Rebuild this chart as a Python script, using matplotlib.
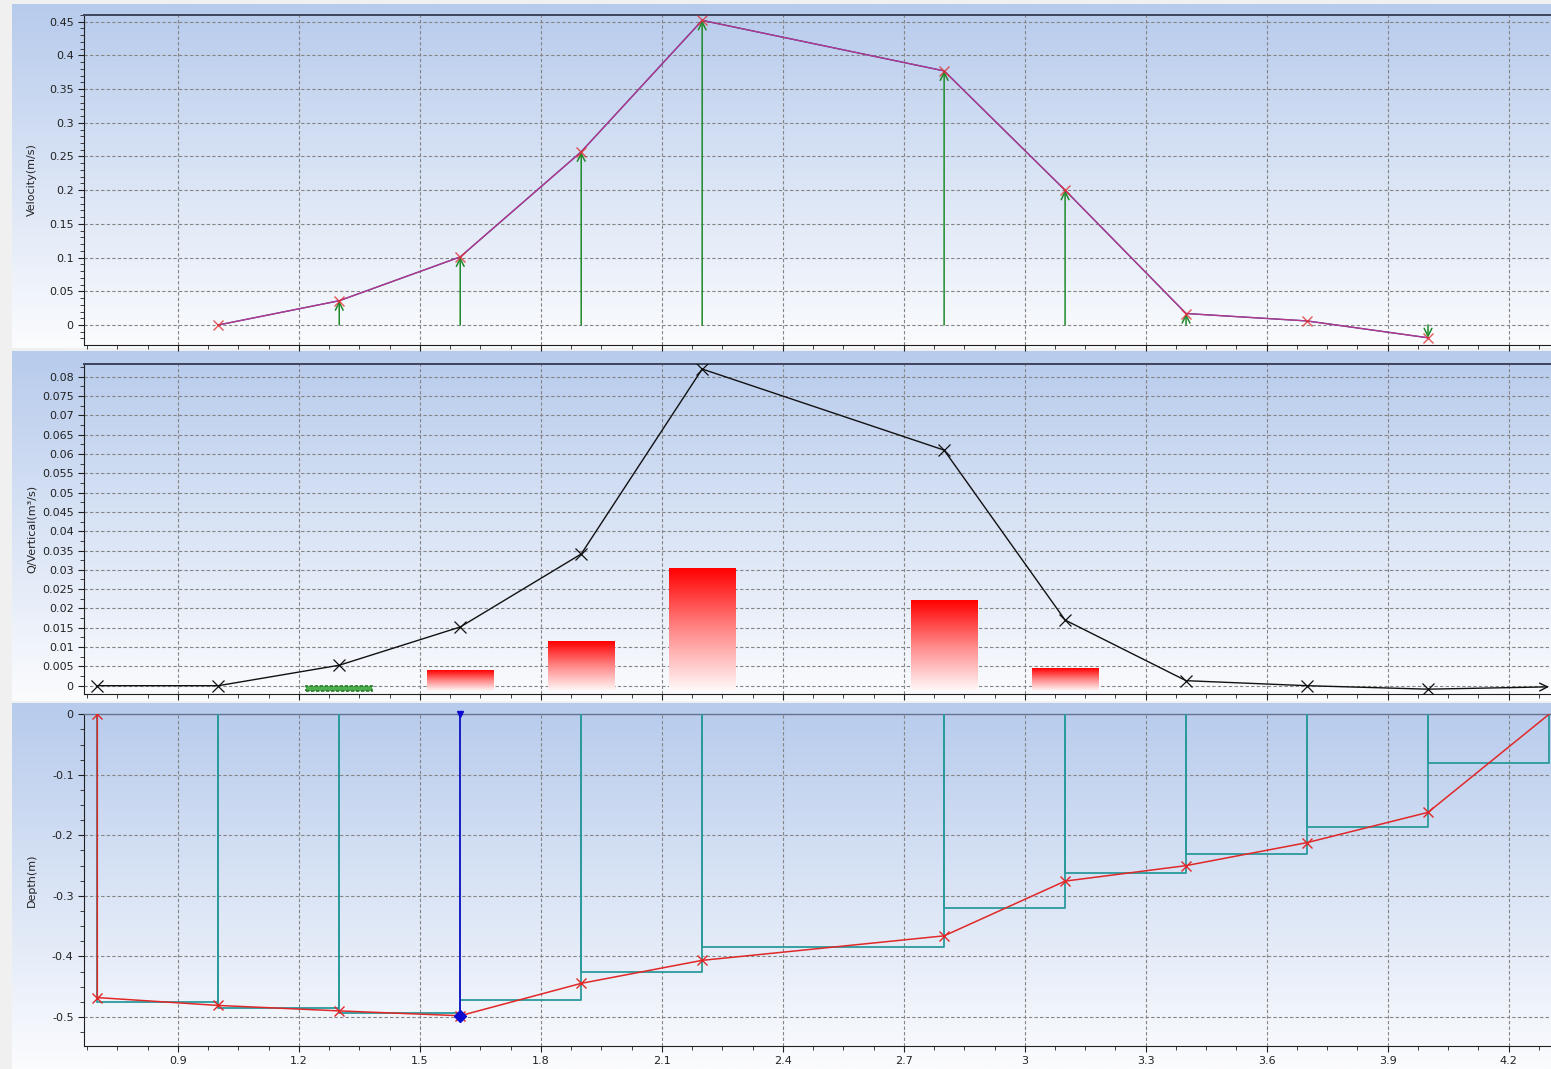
import matplotlib
matplotlib.use("Agg")
import matplotlib.pyplot as plt
import numpy as np
from matplotlib.colors import LinearSegmentedColormap
from matplotlib.ticker import MultipleLocator, FuncFormatter

# stations across the section (m)
stations = [0.7, 1.0, 1.3, 1.6, 1.9, 2.2, 2.8, 3.1, 3.4, 3.7, 4.0, 4.3]

# velocity at the measured verticals (m/s)
vel_x = [1.0, 1.3, 1.6, 1.9, 2.2, 2.8, 3.1, 3.4, 3.7, 4.0]
vel = [0.0, 0.036, 0.101, 0.257, 0.452, 0.377, 0.200, 0.017, 0.006, -0.019]

# discharge per vertical (m3/s), one per station
q_vert = [0.0, 0.0, 0.0053, 0.0152, 0.0341, 0.082, 0.061, 0.017, 0.0013, 0.0, -0.0009, -0.0003]

# panel discharge bars
bar_x = [1.3, 1.6, 1.9, 2.2, 2.8, 3.1]
bar_q = [0.0, 0.0038, 0.0113, 0.0302, 0.0219, 0.0044]
bar_base = -0.0015
bar_w = 0.164

# bed depth at the stations (m), water edge at 0
edge_top = 0.0
depth = [-0.468, -0.481, -0.490, -0.498, -0.4445, -0.4065, -0.366, -0.2756, -0.250, -0.212, -0.162, 0.0]
# mean depth of each panel between stations
panel_depth = [-0.475, -0.485, -0.494, -0.4715, -0.426, -0.385, -0.3196, -0.262, -0.2315, -0.1854, -0.081]
sel_station = 1.6

W, H = 1551, 1069
fig = plt.figure(figsize=(W / 100, H / 100), dpi=100, facecolor="#f0f0f0")


def px_box(x0, y0, x1, y1):
    return [x0 / W, 1 - y1 / H, (x1 - x0) / W, (y1 - y0) / H]


# panel backgrounds (blue to white gradient)
bg_cmap = LinearSegmentedColormap.from_list("bg", ["#b7cbec", "#fbfcfe"])
grad = np.linspace(0, 1, 256).reshape(-1, 1)
for y0, y1 in [(4, 348), (351, 701), (703, 1069)]:
    bg = fig.add_axes(px_box(12, y0, W, y1), zorder=0)
    bg.imshow(grad, aspect="auto", cmap=bg_cmap, extent=(0, 1, 0, 1))
    bg.axis("off")

fmt = FuncFormatter(lambda v, p: "0" if abs(v) < 1e-9 else f"{round(v, 6):g}")
xlim = (0.667, 4.305)


def setup(ax, ylim, ymaj, ymin, label):
    ax.set_facecolor("none")
    ax.set_xlim(*xlim)
    ax.set_ylim(*ylim)
    ax.xaxis.set_major_locator(MultipleLocator(0.3))
    ax.xaxis.set_minor_locator(MultipleLocator(0.075))
    ax.yaxis.set_major_locator(MultipleLocator(ymaj))
    ax.yaxis.set_minor_locator(MultipleLocator(ymin))
    ax.xaxis.set_major_formatter(fmt)
    ax.yaxis.set_major_formatter(fmt)
    ax.grid(True, which="major", color="#858585", linestyle=(0, (3, 2)), linewidth=0.8)
    ax.set_axisbelow(True)
    ax.tick_params(which="both", direction="out", labelsize=8, colors="#222222")
    ax.tick_params(which="major", length=4)
    ax.tick_params(which="minor", length=3)
    for s in ["left", "bottom"]:
        ax.spines[s].set_color("#202020")
    ax.spines["top"].set_color("#3c4460")
    ax.spines["top"].set_linewidth(1.4)
    ax.spines["right"].set_visible(False)
    ax.set_ylabel(label, fontsize=8, color="#222222")
    ax.yaxis.set_label_coords(-0.032, 0.5)


# --- velocity panel
ax1 = fig.add_axes(px_box(84, 14.7, W, 345), zorder=1)
setup(ax1, (-0.0297, 0.4604), 0.05, 0.01, "Velocity(m/s)")
ax1.tick_params(labelbottom=False)
for x, v in zip(vel_x, vel):
    if abs(v) >= 0.01:
        ax1.annotate("", xy=(x, v), xytext=(x, 0),
                     arrowprops=dict(arrowstyle="->", color="#1e8a2a", lw=1.1,
                                     shrinkA=0, shrinkB=0, mutation_scale=14))
ax1.plot(vel_x, vel, color="#2020a0", lw=1.0, zorder=3)
ax1.plot(vel_x, vel, color="#e04080", lw=0.9, alpha=0.8, marker="x",
         markersize=7, markeredgecolor="#e03030", markeredgewidth=1.0, zorder=4)

# --- discharge panel
ax2 = fig.add_axes(px_box(84, 364, W, 694), zorder=1)
setup(ax2, (-0.00215, 0.0833), 0.005, 0.0025, "Q/Vertical(m³/s)")
ax2.tick_params(labelbottom=False)
red_cmap = LinearSegmentedColormap.from_list("rw", ["#fffafa", "#ff8888", "#ff0000"])
for x, q in zip(bar_x, bar_q):
    if q > 0:
        ax2.imshow(grad, aspect="auto", cmap=red_cmap, origin="lower",
                   extent=(x - bar_w / 2, x + bar_w / 2, bar_base, q), zorder=2)
    else:
        ax2.bar(x, q - bar_base, bottom=bar_base, width=bar_w, color="#4cae4c",
                edgecolor="#2a7a2a", linestyle=(0, (2, 1)), linewidth=1.2, zorder=2)
ax2.set_xlim(*xlim)
ax2.set_ylim(-0.00215, 0.0833)
ax2.plot(stations[:-1], q_vert[:-1], color="#111111", lw=1.0, marker="x",
         markersize=8, markeredgewidth=0.9, zorder=4)
ax2.annotate("", xy=(stations[-1], q_vert[-1]), xytext=(stations[-2], q_vert[-2]),
             arrowprops=dict(arrowstyle="->", color="#111111", lw=1.0,
                             shrinkA=0, shrinkB=0, mutation_scale=14), zorder=4)

# --- depth panel
ax3 = fig.add_axes(px_box(84, 714, W, 1046), zorder=1)
setup(ax3, (-0.548, 0.0005), 0.1, 0.025, "Depth(m)")
ax3.spines["top"].set_color("#6a7490")
ax3.spines["top"].set_linewidth(1.0)
for i, d in enumerate(panel_depth):
    x0, x1 = stations[i], stations[i + 1]
    ax3.plot([x0, x0, x1, x1], [edge_top, d, d, edge_top], color="#2a9a9c", lw=1.3, zorder=3)
si = stations.index(sel_station)
ax3.plot([sel_station, sel_station], [edge_top, depth[si]], color="#1818c8", lw=1.3, zorder=4)
ax3.plot([stations[0]] + stations, [edge_top] + depth, color="#e02828", lw=1.1,
         marker="x", markersize=7, markeredgewidth=1.0, zorder=5, markevery=list(range(12)))
ax3.plot([sel_station], [depth[si]], marker="D", color="#0a0ad0", markersize=6, zorder=6)
ax3.plot([sel_station], [edge_top], marker="v", color="#0a0ad0", markersize=4, zorder=6, clip_on=False)

fig.savefig("out.png", dpi=100, facecolor=fig.get_facecolor())
